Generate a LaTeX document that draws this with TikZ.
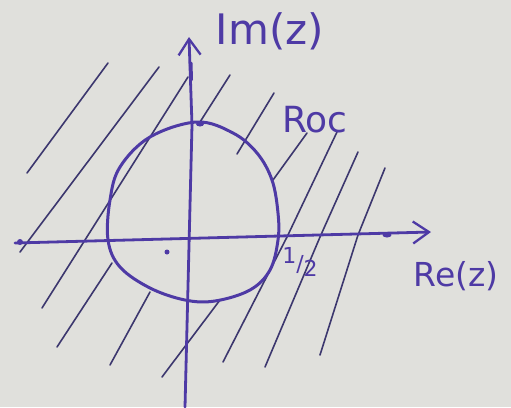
\documentclass[tikz,border=0pt]{standalone}
\usepackage{fontspec}
\setmainfont{DejaVu Sans}
\usetikzlibrary{arrows.meta,shapes.geometric}
\definecolor{paper}{RGB}{224,224,220}
\definecolor{ink}{RGB}{78,58,165}
\definecolor{pencil}{RGB}{60,55,110}
\begin{document}
\begin{tikzpicture}[x=1pt,y=-1pt,
  axisline/.style={draw=ink,line width=2.8pt,line cap=round},
  axisarrow/.style={axisline,-{Straight Barb[length=16pt,width=22pt,line width=2.3pt]}},
  hatch/.style={draw=pencil,line width=1.6pt,line cap=round},
  rocline/.style={draw=ink,line width=3pt},
  lbl/.style={text=ink,inner sep=0pt},
  blob/.style={fill=ink,inner sep=0pt,circle,minimum size=5pt},
  oblob/.style={fill=ink,inner sep=0pt,ellipse,minimum width=9pt,minimum height=5pt}]
\fill[paper] (0,0) rectangle (511,407);
\useasboundingbox (0,0) rectangle (511,407);

% hatching (region of convergence, outside the circle)
\draw[hatch] (108,63) -- (27,173);
\draw[hatch] (159,67) -- (20,252);
\draw[hatch] (188,77) -- (42,308);
\draw[hatch] (112,263) -- (57,347);
\draw[hatch] (150,292) -- (110,365);
\draw[hatch] (220,300) -- (162,377);
\draw[hatch] (230,75) -- (200,122);
\draw[hatch] (274,93) -- (237,154);
\draw[hatch] (307,133) -- (273,180);
\draw[hatch] (337,132) -- (287,237) -- (223,362);
\draw[hatch] (358,152) -- (320,237) -- (265,367);
\draw[hatch] (385,168) -- (358,235) -- (320,355);

% circle |z| = 1/2
\draw[rocline] plot[smooth cycle, tension=0.6] coordinates {
  (197,122) (233,133) (257,153) (272,180) (278,213) (278,240) (270,270)
  (250,290) (215,301) (185,300) (150,288) (120,267) (108,240) (110,200)
  (120,167) (150,137)};

% axes
\coordinate (xl) at (15,243);
\coordinate (xr) at (431,232);
\coordinate (yb) at (185,407);
\coordinate (ym) at (192,125);
\coordinate (yt) at (189,37);
\draw[axisarrow] (xl) -- (xr);
\draw[axisline] (yb) -- (ym);
\draw[axisarrow] (ym) -- (yt);
\draw[ink,line width=3.6pt,line cap=round] (190.7,63) -- (191.2,80);

% dots
\node[blob,minimum size=6pt] (dl) at (20,242) {};
\node[blob,minimum size=5pt] (d0) at (167,252) {};
\node[oblob] (dr) at (387,235) {};
\node[oblob,minimum width=8pt] (dt) at (200,124) {};

% labels
\node[lbl,font=\fontsize{42}{44}\selectfont] (im) at (270,31) {Im(z)};
\node[lbl,font=\fontsize{36}{38}\selectfont] (roc) at (315,120) {Roc};
\node[lbl,font=\fontsize{33}{35}\selectfont] (re) at (456,276) {Re(z)};
\node[lbl,font=\fontsize{22}{24}\selectfont] (half) at (300,262) {\raisebox{0.35em}{1}/\raisebox{-0.25em}{2}};
\end{tikzpicture}
\end{document}
